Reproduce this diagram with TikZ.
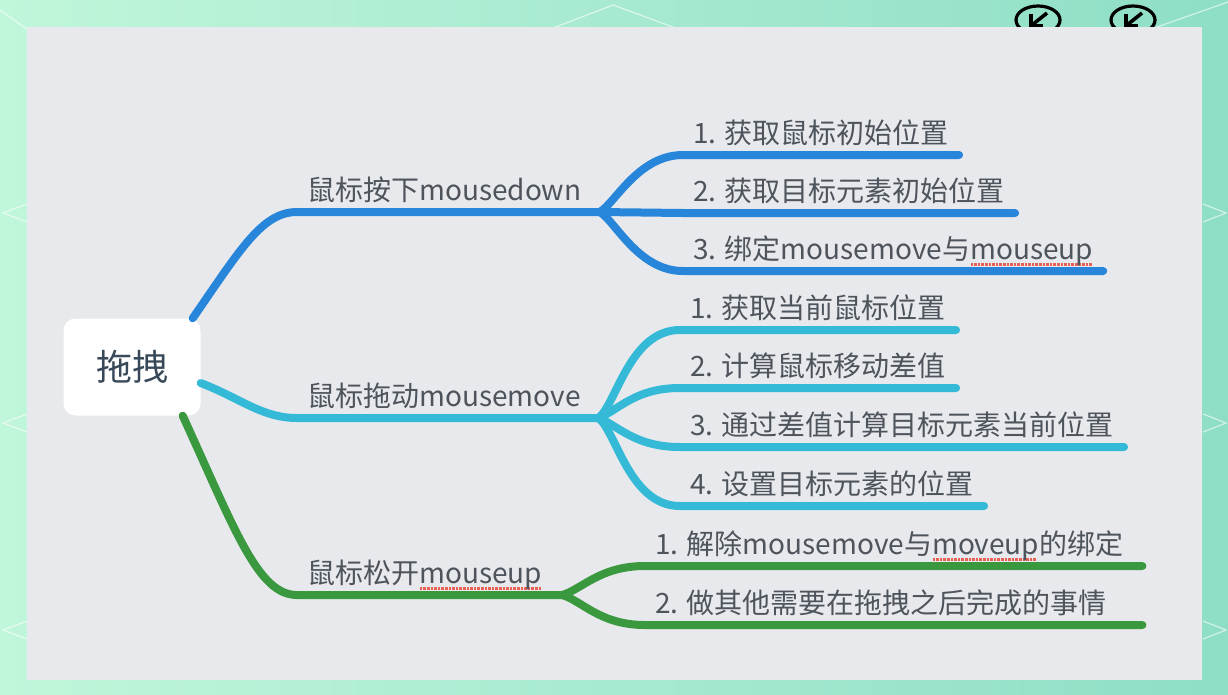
\documentclass[tikz,border=0pt]{standalone}
\usepackage{fontspec}
\setmainfont{Noto Sans CJK SC}
\usetikzlibrary{positioning}
\definecolor{mintlight}{RGB}{192,246,218}
\definecolor{mintdark}{RGB}{142,222,198}
\definecolor{panelgray}{RGB}{232,233,237}
\definecolor{txtgray}{RGB}{78,84,92}
\definecolor{rootink}{RGB}{55,72,88}
\definecolor{spellred}{RGB}{232,96,84}
\definecolor{brblue}{RGB}{40,134,218}
\definecolor{brcyan}{RGB}{52,186,214}
\definecolor{brgreen}{RGB}{58,152,62}
% red dotted spell-check mark under a word
\newcommand\spellmark[1]{\setbox0\hbox{#1}\rlap{\color{spellred}\raisebox{-6pt}{\leaders\hbox to 3.6pt{\hss\rule{2.6pt}{3pt}\hss}\hskip\wd0}}\box0}

\begin{document}
\begin{tikzpicture}[
        x=1pt, y=-1pt,
        root/.style={rectangle, rounded corners=12pt, fill=white, minimum width=137pt, minimum height=97pt, font=\fontsize{36}{40}\selectfont, text=rootink},
        lbl/.style={anchor=south west, inner xsep=10pt, inner ysep=0pt, text depth=11pt, font=\fontsize{28}{32}\selectfont, text=txtgray},
        branch/.style={line width=8pt, line cap=round, line join=round},
        bluebr/.style={branch, draw=brblue},
        cyanbr/.style={branch, draw=brcyan},
        greenbr/.style={branch, draw=brgreen},
        deco/.style={white, opacity=0.6, line width=1.2pt}
    ]
        \useasboundingbox (0,0) rectangle (1228,694);

        % Background
        \shade[left color=mintlight, right color=mintdark] (0,0) rectangle (1228,694);
        \draw[deco] (0,10) -- (35,35);
        \draw[deco] (548,30) -- (613,5) -- (681,30);
        \draw[deco] (1157,27) -- (1228,2);
        \foreach \yy in {213,423,630} {
            \draw[deco] (27,\yy-9) -- (3,\yy) -- (27,\yy+9);
            \draw[deco] (1203,\yy-9) -- (1226,\yy) -- (1203,\yy+9);
        }
        \foreach \xx in {1038,1133} {
            \draw[black, line width=3.2pt] (\xx,20) ellipse (22 and 14);
            \draw[black, line width=3.6pt] (\xx+9,13) -- (\xx-6,25);
            \draw[black, line width=3.6pt] (\xx-7,14) -- (\xx-7,26) -- (\xx+5,26);
        }
        \fill[panelgray] (27,27) rectangle (1202,680);

        % Root
        \node[root] (drag) at (132,367) {拖拽};

        % Main branches
        \node[lbl] (down) at (297,212) {鼠标按下mousedown};
        \node[lbl] (move) at (297,418) {鼠标拖动mousemove};
        \node[lbl] (up) at (297,595) {鼠标松开\spellmark{mouseup}};

        % Mousedown steps
        \node[lbl] (down1) at (683,155) {1. 获取鼠标初始位置};
        \node[lbl] (down2) at (683,213) {2. 获取目标元素初始位置};
        \node[lbl] (down3) at (683,271) {3. 绑定mousemove与\spellmark{mouseup}};

        % Mousemove steps
        \node[lbl] (move1) at (680,330) {1. 获取当前鼠标位置};
        \node[lbl] (move2) at (680,388) {2. 计算鼠标移动差值};
        \node[lbl] (move3) at (680,447) {3. 通过差值计算目标元素当前位置};
        \node[lbl] (move4) at (680,506) {4. 设置目标元素的位置};

        % Mouseup steps
        \node[lbl] (up1) at (645,566) {\hbox to 477pt{1. 解除mousemove与\spellmark{moveup}的绑定\hfil}};
        \node[lbl] (up2) at (645,625) {\hbox to 477pt{2. 做其他需要在拖拽之后完成的事情\hfil}};

        % Forks
        \coordinate (fkA) at ([xshift=8pt]down.south east);
        \coordinate (fkB) at ([xshift=8pt]move.south east);
        \coordinate (fkC) at ([xshift=10pt]up.south east);

        % Blue branch
        \draw[bluebr] ([xshift=-8pt]drag.north east) .. controls (240,250) and (262,212) .. (down.south west) -- (fkA);
        \draw[bluebr] (fkA) .. controls +(15,-8) and +(-45,0) .. (down1.south west) -- (down1.south east);
        \draw[bluebr] (fkA) -- (down2.south west) -- (down2.south east);
        \draw[bluebr] (fkA) .. controls +(15,8) and +(-45,0) .. (down3.south west) -- (down3.south east);

        % Cyan branch
        \draw[cyanbr] ([yshift=-16pt]drag.east) .. controls (240,398) and (262,418) .. (move.south west) -- (fkB);
        \draw[cyanbr] (fkB) .. controls +(18,-15) and +(-50,0) .. (move1.south west) -- (move1.south east);
        \draw[cyanbr] (fkB) .. controls +(20,-8) and +(-45,0) .. (move2.south west) -- (move2.south east);
        \draw[cyanbr] (fkB) .. controls +(20,8) and +(-45,0) .. (move3.south west) -- (move3.south east);
        \draw[cyanbr] (fkB) .. controls +(18,15) and +(-50,0) .. (move4.south west) -- (move4.south east);

        % Green branch
        \draw[greenbr] ([xshift=-18pt]drag.south east) .. controls (235,530) and (258,595) .. (up.south west) -- (fkC);
        \draw[greenbr] (fkC) .. controls +(20,-6) and +(-45,0) .. (up1.south west) -- (up1.south east);
        \draw[greenbr] (fkC) .. controls +(20,6) and +(-45,0) .. (up2.south west) -- (up2.south east);
    \end{tikzpicture}
\end{document}
